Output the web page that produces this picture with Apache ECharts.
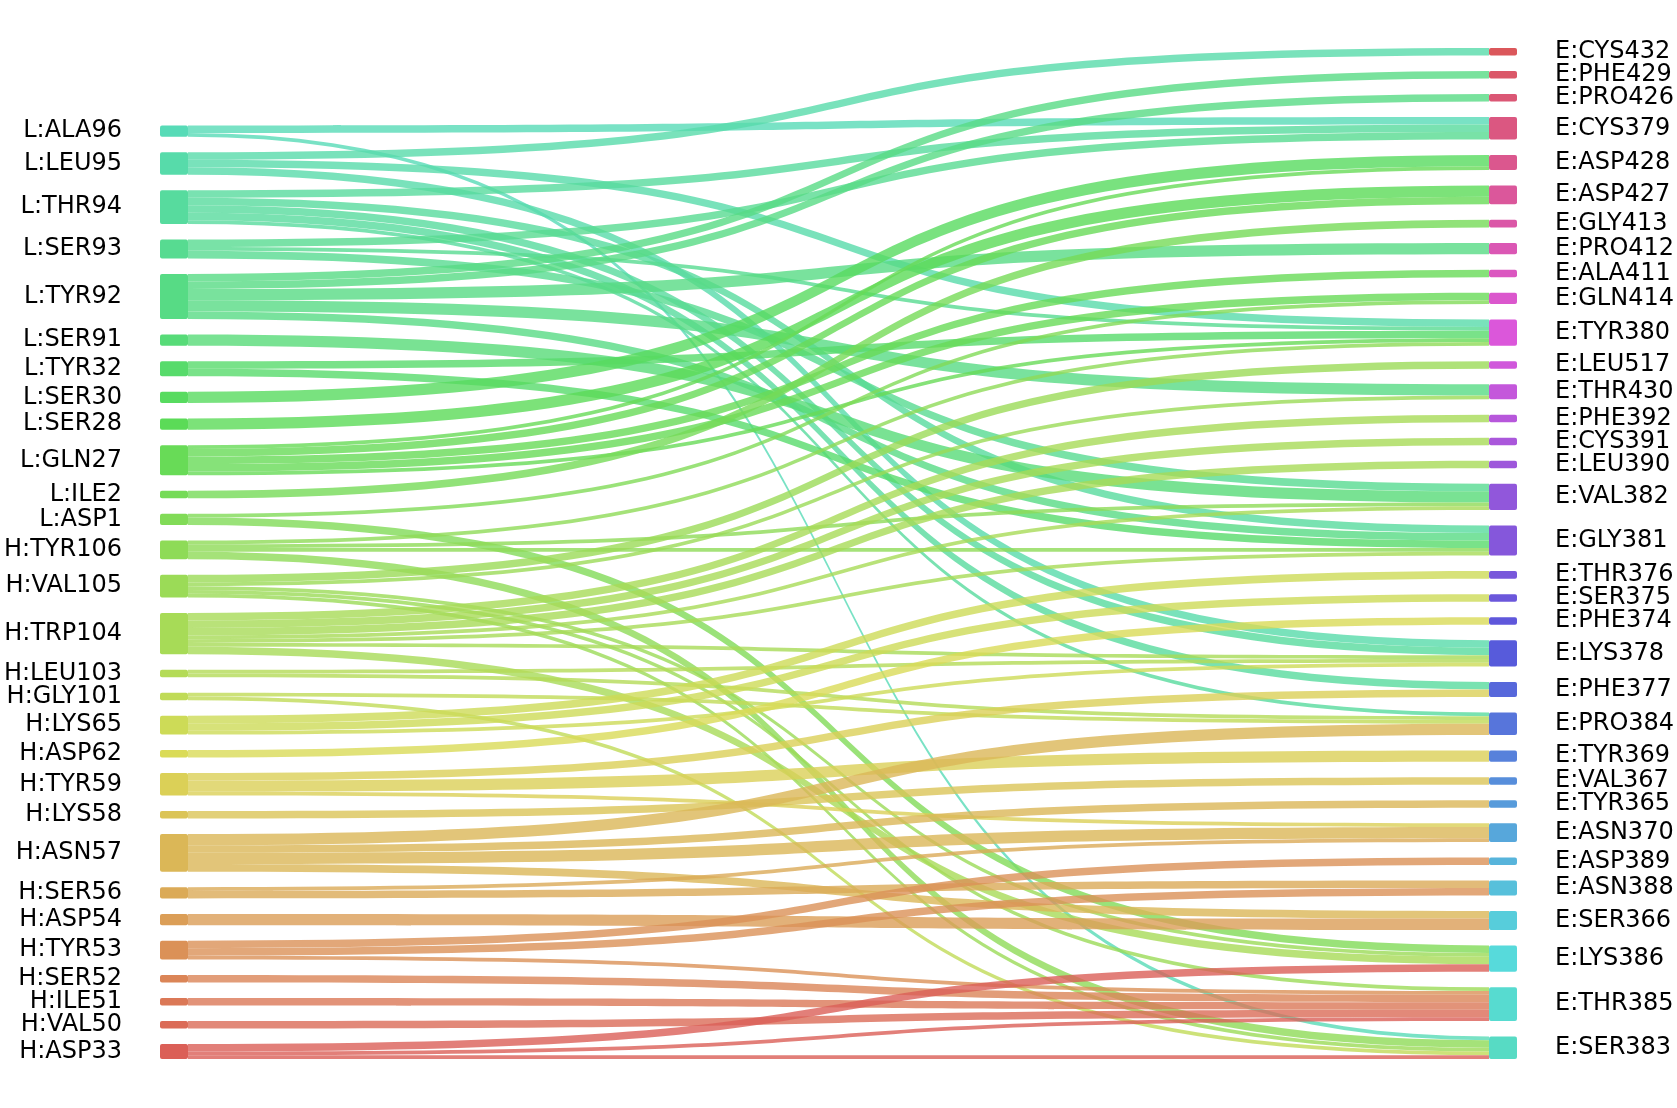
<!DOCTYPE html>
<html><head><meta charset="utf-8">
<script src="https://cdn.jsdelivr.net/npm/echarts@6/dist/echarts.min.js"></script>
<style>html,body{margin:0;padding:0;background:#fff}#c{width:1677px;height:1108px}</style>
</head><body><div id="c"></div>
<script>
// Left column (top to bottom)
const leftNodes = ['L:ALA96','L:LEU95','L:THR94','L:SER93','L:TYR92','L:SER91','L:TYR32','L:SER30','L:SER28','L:GLN27','L:ILE2','L:ASP1','H:TYR106','H:VAL105','H:TRP104','H:LEU103','H:GLY101','H:LYS65','H:ASP62','H:TYR59','H:LYS58','H:ASN57','H:SER56','H:ASP54','H:TYR53','H:SER52','H:ILE51','H:VAL50','H:ASP33'];
// Right column (top to bottom)
const rightNodes = ['E:CYS432','E:PHE429','E:PRO426','E:CYS379','E:ASP428','E:ASP427','E:GLY413','E:PRO412','E:ALA411','E:GLN414','E:TYR380','E:LEU517','E:THR430','E:PHE392','E:CYS391','E:LEU390','E:VAL382','E:GLY381','E:THR376','E:SER375','E:PHE374','E:LYS378','E:PHE377','E:PRO384','E:TYR369','E:VAL367','E:TYR365','E:ASN370','E:ASP389','E:ASN388','E:SER366','E:LYS386','E:THR385','E:SER383'];
// Links: [source, target, value]
const links = [
  ['L:ALA96','E:CYS379',2],['L:ALA96','E:SER383',1],
  ['L:LEU95','E:CYS432',2],['L:LEU95','E:TYR380',2],['L:LEU95','E:LYS378',2],
  ['L:THR94','E:CYS379',2],['L:THR94','E:GLY381',2],['L:THR94','E:LYS378',2],['L:THR94','E:PHE377',2],['L:THR94','E:PRO384',1],
  ['L:SER93','E:CYS379',2],['L:SER93','E:TYR380',1],['L:SER93','E:VAL382',2],
  ['L:TYR92','E:PHE429',2],['L:TYR92','E:PRO426',2],['L:TYR92','E:PRO412',3],['L:TYR92','E:THR430',3],['L:TYR92','E:GLY381',2],
  ['L:SER91','E:VAL382',3],
  ['L:TYR32','E:TYR380',2],['L:TYR32','E:GLY381',2],
  ['L:SER30','E:ASP428',3],
  ['L:SER28','E:ASP427',3],
  ['L:GLN27','E:ASP428',1],['L:GLN27','E:ASP427',2],['L:GLN27','E:ALA411',2],['L:GLN27','E:GLN414',2],['L:GLN27','E:TYR380',1],
  ['L:ILE2','E:GLY413',2],
  ['L:ASP1','E:GLN414',1],['L:ASP1','E:LYS386',2],
  ['H:TYR106','E:TYR380',1],['H:TYR106','E:VAL382',1],['H:TYR106','E:GLY381',1],['H:TYR106','E:SER383',2],
  ['H:VAL105','E:LEU517',2],['H:VAL105','E:THR430',1],['H:VAL105','E:LYS386',1],['H:VAL105','E:THR385',1],['H:VAL105','E:SER383',1],
  ['H:TRP104','E:PHE392',2],['H:TRP104','E:CYS391',2],['H:TRP104','E:LEU390',2],['H:TRP104','E:VAL382',1],['H:TRP104','E:GLY381',1],['H:TRP104','E:LYS378',1],['H:TRP104','E:LYS386',2],
  ['H:LEU103','E:LYS378',1],['H:LEU103','E:PRO384',1],
  ['H:GLY101','E:PRO384',1],['H:GLY101','E:SER383',1],
  ['H:LYS65','E:THR376',2],['H:LYS65','E:SER375',2],['H:LYS65','E:LYS378',1],
  ['H:ASP62','E:PHE374',2],
  ['H:TYR59','E:PHE377',2],['H:TYR59','E:TYR369',3],['H:TYR59','E:ASN370',1],
  ['H:LYS58','E:VAL367',2],
  ['H:ASN57','E:PRO384',3],['H:ASN57','E:TYR365',2],['H:ASN57','E:ASN370',3],['H:ASN57','E:SER366',2],
  ['H:SER56','E:ASN370',1],['H:SER56','E:ASN388',2],
  ['H:ASP54','E:SER366',3],
  ['H:TYR53','E:ASP389',2],['H:TYR53','E:ASN388',2],['H:TYR53','E:THR385',1],
  ['H:SER52','E:THR385',2],
  ['H:ILE51','E:THR385',2],
  ['H:VAL50','E:THR385',2],
  ['H:ASP33','E:LYS386',2],['H:ASP33','E:THR385',1],['H:ASP33','E:SER383',1]
];

// hls palette (l=0.6, s=0.65), ordered bottom-up: left column then right column
const paletteOrder = leftNodes.slice().reverse().concat(rightNodes.slice().reverse());
const nColors = paletteOrder.length;
function colorOf(name) {
  const i = paletteOrder.indexOf(name);
  const h = ((i / nColors + 0.01) % 1) * 360;
  return 'hsl(' + h.toFixed(2) + ',65%,60%)';
}

const FONT = 'DejaVu Sans';
const data = [];
// invisible zero-size spacers so the shorter left column sits at the bottom
for (let k = 0; k < rightNodes.length - leftNodes.length; k++) {
  data.push({name: '__pad' + k, depth: 0, itemStyle: {opacity: 0}, label: {show: false}});
}
leftNodes.forEach(function (n) {
  data.push({name: n, depth: 0, itemStyle: {color: colorOf(n)}, label: {position: 'left'}});
});
rightNodes.forEach(function (n) {
  data.push({name: n, depth: 1, itemStyle: {color: colorOf(n)}, label: {position: 'right'}});
});
const linkData = links.map(function (l) {
  return {source: l[0], target: l[1], value: l[2]};
});

const chart = echarts.init(document.getElementById('c'), null, {renderer: 'canvas'});
chart.setOption({
  backgroundColor: '#ffffff',
  animation: false,
  series: [{
    type: 'sankey',
    left: 160, right: 160, top: 48, bottom: 49,
    nodeWidth: 28,
    nodeGap: 15.5,
    layoutIterations: 0,
    nodeAlign: 'left',
    draggable: false,
    emphasis: {disabled: true},
    itemStyle: {borderWidth: 0, borderRadius: 2},
    label: {fontFamily: FONT, fontSize: 24, color: '#000', distance: 38},
    lineStyle: {color: 'source', opacity: 0.8, curveness: 0.65},
    data: data,
    links: linkData
  }]
});
</script>
</body></html>
